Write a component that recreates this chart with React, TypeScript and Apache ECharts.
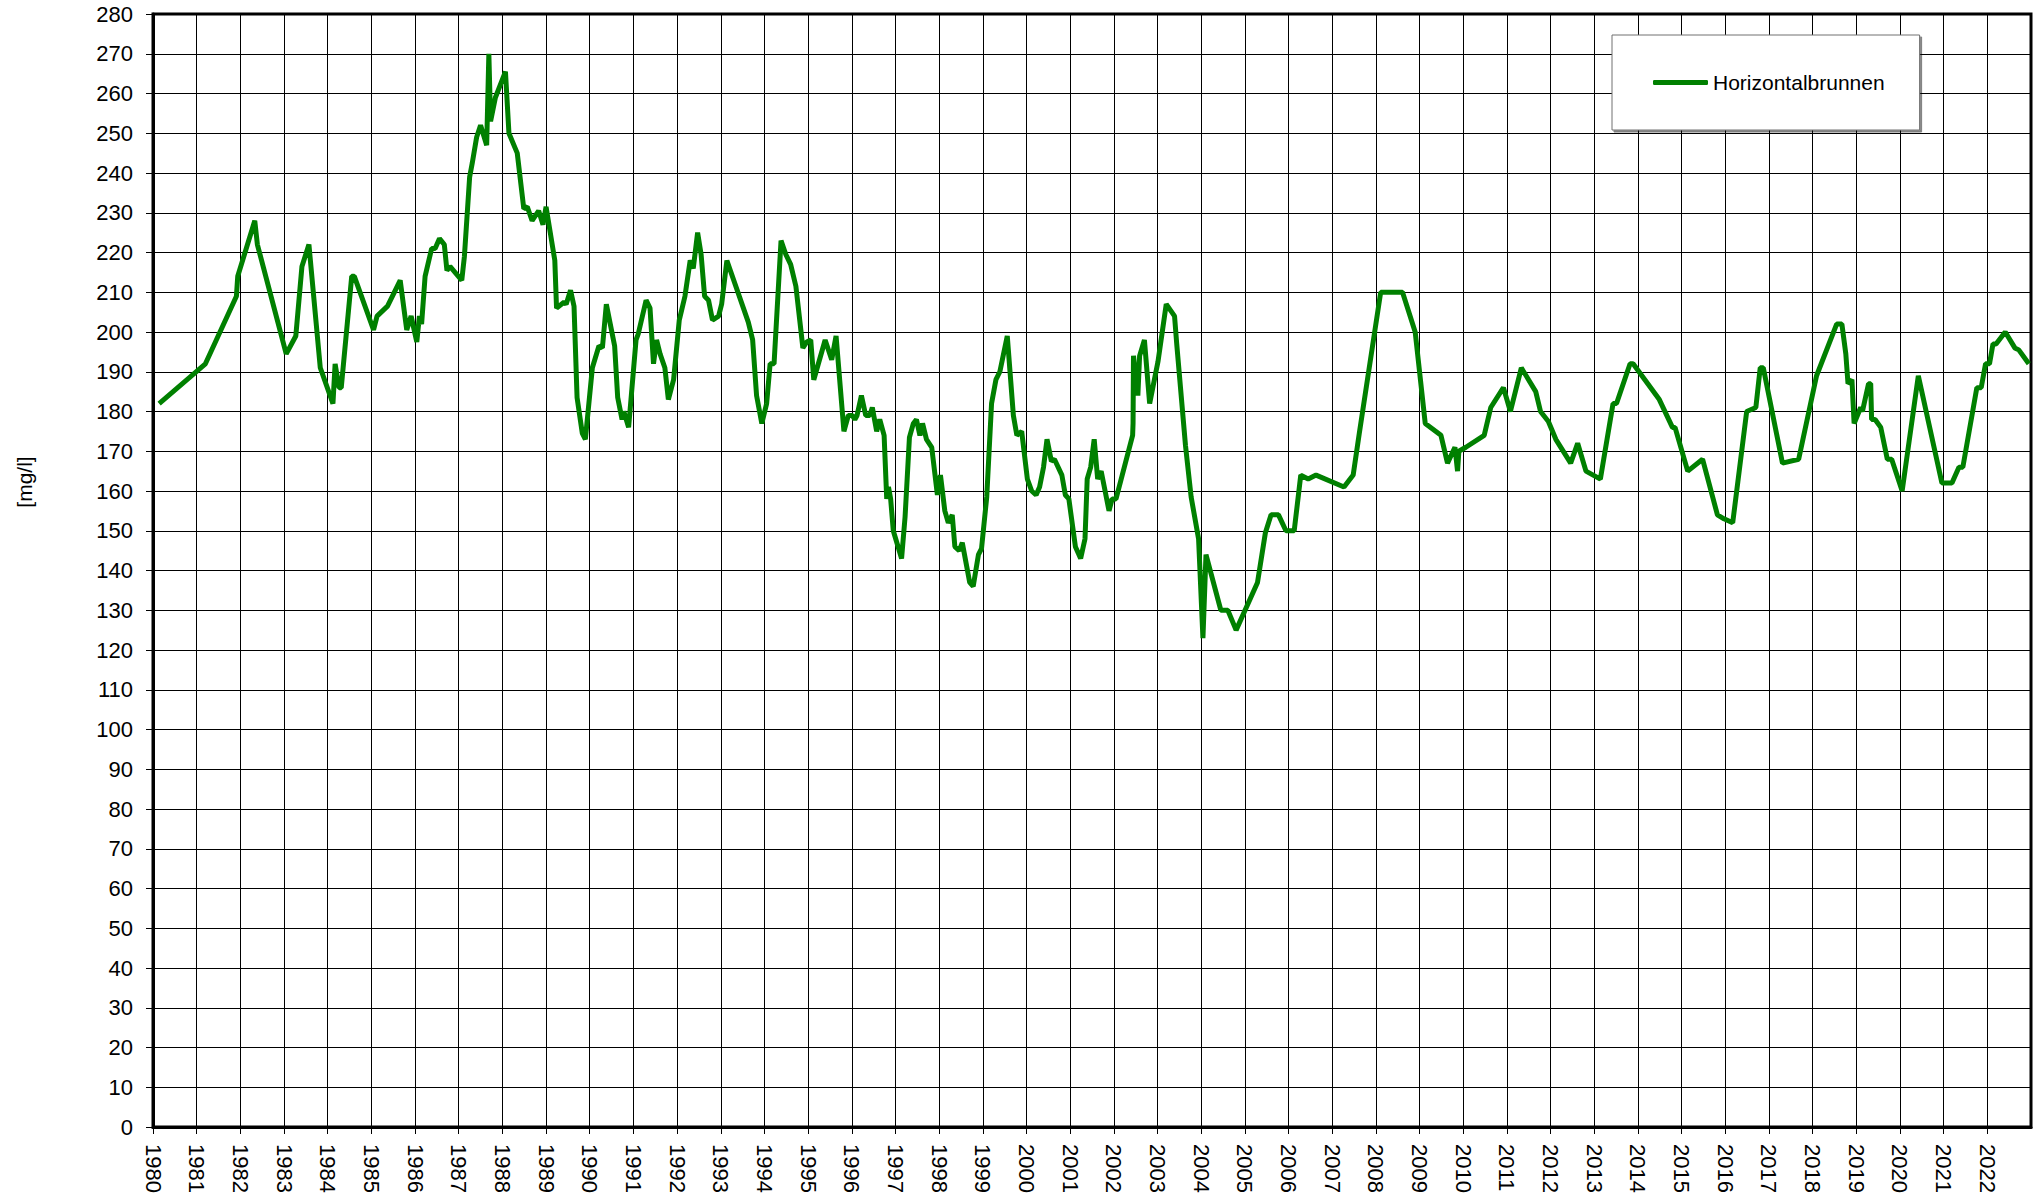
import React, { useEffect, useRef } from "react";
import * as echarts from "echarts";

const seriesName = "Horizontalbrunnen";
const yAxisTitle = "[mg/l]";

const years = [
  1980.14, 1981.2, 1981.91, 1981.94, 1982.33, 1982.39, 1983.05, 1983.27, 1983.41, 1983.57,
  1983.83, 1984.12, 1984.17, 1984.26, 1984.31, 1984.55, 1984.61, 1985.05, 1985.13, 1985.37,
  1985.66, 1985.81, 1985.91, 1986.04, 1986.1, 1986.15, 1986.23, 1986.38, 1986.46, 1986.56,
  1986.67, 1986.73, 1986.8, 1987.07, 1987.13, 1987.25, 1987.31, 1987.41, 1987.5, 1987.64,
  1987.69, 1987.73, 1987.84, 1988.07, 1988.15, 1988.34, 1988.49, 1988.57, 1988.68, 1988.83,
  1988.93, 1989.0, 1989.2, 1989.24, 1989.41, 1989.46, 1989.56, 1989.64, 1989.71, 1989.83,
  1989.9, 1990.06, 1990.21, 1990.29, 1990.38, 1990.57, 1990.64, 1990.74, 1990.78, 1990.89,
  1991.06, 1991.11, 1991.29, 1991.38, 1991.46, 1991.53, 1991.61, 1991.72, 1991.8, 1991.92,
  1992.05, 1992.18, 1992.3, 1992.37, 1992.47, 1992.55, 1992.63, 1992.72, 1992.81, 1992.95,
  1993.02, 1993.14, 1993.63, 1993.73, 1993.82, 1993.94, 1994.05, 1994.13, 1994.22, 1994.38,
  1994.49, 1994.6, 1994.72, 1994.88, 1994.97, 1995.06, 1995.13, 1995.39, 1995.54, 1995.64,
  1995.82, 1995.92, 1996.01, 1996.07, 1996.12, 1996.22, 1996.32, 1996.41, 1996.47, 1996.57,
  1996.64, 1996.74, 1996.8, 1996.84, 1996.89, 1996.95, 1997.14, 1997.22, 1997.32, 1997.41,
  1997.48, 1997.56, 1997.62, 1997.71, 1997.83, 1997.96, 1998.03, 1998.13, 1998.21, 1998.3,
  1998.36, 1998.46, 1998.53, 1998.7, 1998.78, 1998.9, 1998.97, 1999.09, 1999.2, 1999.3,
  1999.39, 1999.56, 1999.7, 1999.78, 1999.89, 2000.02, 2000.12, 2000.22, 2000.3, 2000.39,
  2000.47, 2000.57, 2000.64, 2000.81, 2000.89, 2000.97, 2001.12, 2001.24, 2001.34, 2001.39,
  2001.47, 2001.55, 2001.63, 2001.71, 2001.89, 2001.96, 2002.05, 2002.43, 2002.44, 2002.45,
  2002.55, 2002.59, 2002.7, 2002.82, 2003.01, 2003.2, 2003.39, 2003.44, 2003.64, 2003.77,
  2003.94, 2004.04, 2004.11, 2004.45, 2004.61, 2004.8, 2005.29, 2005.47, 2005.6, 2005.77,
  2005.94, 2006.13, 2006.28, 2006.45, 2006.63, 2007.27, 2007.48, 2007.62, 2008.11, 2008.61,
  2008.9, 2009.13, 2009.49, 2009.64, 2009.81, 2009.87, 2009.9, 2010.06, 2010.48, 2010.63,
  2010.92, 2011.08, 2011.33, 2011.66, 2011.77, 2011.95, 2012.12, 2012.46, 2012.62, 2012.81,
  2013.14, 2013.43, 2013.51, 2013.82, 2013.89, 2014.49, 2014.79, 2014.85, 2015.14, 2015.48,
  2015.82, 2015.97, 2016.17, 2016.49, 2016.7, 2016.8, 2016.87, 2017.31, 2017.68, 2018.09,
  2018.55, 2018.67, 2018.76, 2018.81, 2018.9, 2018.95, 2019.1, 2019.14, 2019.28, 2019.33,
  2019.35, 2019.43, 2019.56, 2019.71, 2019.81, 2020.05, 2020.42, 2020.96, 2021.19, 2021.35,
  2021.44, 2021.76, 2021.86, 2021.96, 2022.05, 2022.13, 2022.2, 2022.41, 2022.63, 2022.72,
  2022.95,
];

const values = [
  182, 192, 209, 214, 228, 222, 194.5, 199, 216.5, 222,
  191, 182, 192, 186, 186, 214, 214, 200.5, 204, 206.5,
  213, 200.5, 204, 197.5, 204, 202, 214, 221, 221, 223.5,
  222, 215.5, 216.5, 213, 219, 239, 242.5, 249, 252, 247,
  270, 253, 259, 265.5, 250, 245, 231, 231.5, 228, 230.5,
  227, 231.5, 218, 206, 207.5, 207, 210.5, 206.5, 183.5, 174.5,
  173, 191, 196.5, 196, 207, 196.5, 183.5, 178, 180, 176,
  198, 199.5, 208, 206, 192, 198, 194.5, 191, 183, 188,
  203, 209, 218, 216, 225, 219.5, 209, 208, 203, 204,
  207, 218, 202.5, 198, 184, 177, 182, 192, 192, 223,
  219.5, 217, 211.5, 196, 197.5, 198, 188, 198, 193, 199,
  175, 179, 179, 178, 179, 184, 179, 179, 181, 175,
  178, 174, 158, 161, 158, 150, 143, 153.5, 173.5, 177,
  178, 174, 177, 173, 171, 159, 164, 155, 152, 154,
  146, 145, 147, 137, 136, 144, 145.5, 158.5, 182, 188,
  190, 199, 179, 174, 175, 163, 160, 159, 161, 166,
  173, 167.5, 168, 164, 159, 158, 146, 143, 148, 163,
  166, 173, 163, 165, 155, 158, 158, 174, 177, 194,
  184, 194, 198, 182, 192.5, 207, 204, 197, 171.5, 158.5,
  148, 123, 144, 130, 130, 125, 137, 149.5, 154, 154,
  150, 150, 164, 163, 164, 161, 164, 174.5, 210, 210,
  200, 177, 174, 167, 171, 165, 170, 171, 174, 181,
  186, 180, 191, 185, 180, 177.5, 173, 167, 172, 165,
  163, 182, 182, 192, 192, 183, 176, 176, 165, 168,
  154, 153, 152, 180, 181, 191, 191, 167, 168, 189,
  202, 202, 194.5, 187, 188, 177, 181, 180, 187, 187,
  178, 178, 176, 168, 168, 160, 189, 162, 162, 166,
  166, 186, 186, 192, 192, 197, 197, 200, 196, 195.5,
  192,
];

const FONT = "'Liberation Sans', Arial, Helvetica, sans-serif";

export default function App() {
  const ref = useRef<HTMLDivElement>(null);

  useEffect(() => {
    if (!ref.current) return;
    const chart = echarts.init(ref.current, null, { renderer: "svg" });
    const data = years.map((y, i) => [y, values[i]]);

    chart.setOption({
      animation: false,
      backgroundColor: "#ffffff",
      textStyle: { fontFamily: FONT },
      grid: {
        left: 153,
        right: 12,
        top: 14,
        bottom: 73,
        containLabel: false,
        outerBoundsMode: "none",
        show: true,
        borderColor: "#000",
        borderWidth: 3,
        backgroundColor: "#fff",
      },
      legend: {
        show: true,
        left: 1612,
        top: 35,
        orient: "horizontal",
        data: [seriesName],
        icon: "roundRect",
        itemWidth: 55,
        itemHeight: 5,
        itemGap: 5,
        padding: [37, 35, 37, 41],
        backgroundColor: "#fff",
        borderColor: "#707070",
        borderWidth: 1,
        borderRadius: 0,
        shadowColor: "rgba(0,0,0,0.5)",
        shadowOffsetX: 2,
        shadowOffsetY: 2,
        shadowBlur: 0,
        textStyle: { fontFamily: FONT, fontSize: 21, color: "#000", padding: [0, 0, 0, 0] },
      },
      xAxis: {
        type: "value",
        min: 1980,
        max: 2023,
        interval: 1,
        axisLine: { show: true, onZero: false, lineStyle: { color: "#000", width: 3 } },
        axisTick: { show: true, length: 7, lineStyle: { color: "#000", width: 1 } },
        axisLabel: {
          show: true,
          rotate: -90,
          margin: 17,
          fontSize: 22,
          color: "#000",
          fontFamily: FONT,
          showMaxLabel: false,
          formatter: (v: number) => (v >= 2023 ? "" : String(v)),
        },
        splitLine: { show: true, lineStyle: { color: "#000", width: 1 } },
      },
      yAxis: {
        type: "value",
        min: 0,
        max: 280,
        interval: 10,
        axisLine: { show: true, onZero: false, lineStyle: { color: "#000", width: 3 } },
        axisTick: { show: true, length: 7, lineStyle: { color: "#000", width: 1 } },
        axisLabel: {
          show: true,
          margin: 20,
          fontSize: 22,
          color: "#000",
          fontFamily: FONT,
        },
        splitLine: { show: true, lineStyle: { color: "#000", width: 1 } },
      },
      graphic: [
        {
          type: "text",
          x: 24,
          y: 482,
          rotation: Math.PI / 2,
          style: {
            text: yAxisTitle,
            font: `21px ${FONT}`,
            fill: "#000",
            align: "center",
            verticalAlign: "middle",
          },
        },
      ],
      series: [
        {
          name: seriesName,
          type: "line",
          data,
          showSymbol: false,
          symbol: "none",
          lineStyle: { color: "#008000", width: 5 },
          itemStyle: { color: "#008000" },
          z: 5,
        },
      ],
    });

    return () => chart.dispose();
  }, []);

  return (
    <div
      ref={ref}
      style={{ position: "fixed", left: 0, top: 0, width: 2043, height: 1200, background: "#fff" }}
    />
  );
}
